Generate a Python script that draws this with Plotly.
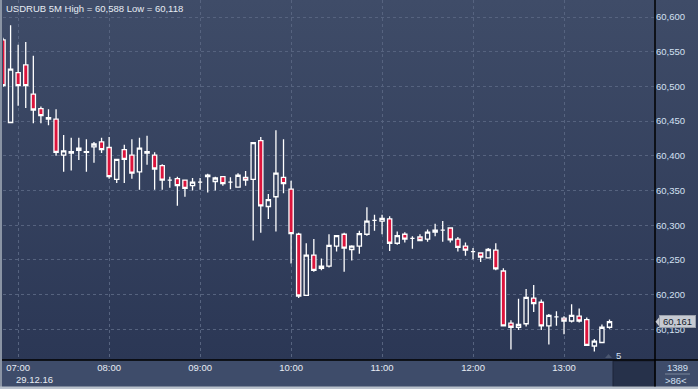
import base64
import pandas as pd
import plotly.graph_objects as go

# ---------------- data ----------------
start_time = "2016-12-29 06:50"
n_bars = 81
open_ = [60.567, 60.448, 60.520, 60.531, 60.489, 60.468, 60.453, 60.453, 60.401, 60.404,
         60.408, 60.405, 60.413, 60.420, 60.412, 60.366, 60.409, 60.401, 60.377, 60.406,
         60.401, 60.386, 60.365, 60.367, 60.365, 60.357, 60.362, 60.370, 60.363, 60.370,
         60.362, 60.355, 60.369, 60.366, 60.422, 60.327, 60.341, 60.369, 60.352, 60.287,
         60.199, 60.257, 60.238, 60.241, 60.270, 60.287, 60.265, 60.270, 60.287, 60.307,
         60.306, 60.309, 60.274, 60.287, 60.281, 60.283, 60.280, 60.290, 60.293, 60.296,
         60.280, 60.270, 60.262, 60.260, 60.253, 60.264, 60.234, 60.159, 60.153, 60.158,
         60.195, 60.189, 60.155, 60.168, 60.166, 60.162, 60.169, 60.164, 60.126, 60.131,
         60.153]
high = [60.570, 60.588, 60.560, 60.564, 60.544, 60.471, 60.467, 60.467, 60.430, 60.426,
        60.426, 60.424, 60.420, 60.426, 60.427, 60.395, 60.416, 60.424, 60.426, 60.429,
        60.405, 60.388, 60.370, 60.370, 60.366, 60.368, 60.368, 60.374, 60.370, 60.371,
        60.369, 60.375, 60.378, 60.420, 60.427, 60.345, 60.437, 60.424, 60.364, 60.289,
        60.274, 60.280, 60.252, 60.287, 60.286, 60.289, 60.271, 60.292, 60.326, 60.315,
        60.315, 60.313, 60.291, 60.290, 60.284, 60.287, 60.294, 60.302, 60.306, 60.296,
        60.283, 60.275, 60.267, 60.261, 60.267, 60.274, 60.238, 60.163, 60.194, 60.208,
        60.214, 60.193, 60.172, 60.176, 60.169, 60.186, 60.180, 60.167, 60.136, 60.157,
        60.164]
low = [60.499, 60.448, 60.472, 60.469, 60.447, 60.447, 60.444, 60.400, 60.377, 60.379,
       60.394, 60.377, 60.390, 60.404, 60.367, 60.361, 60.361, 60.367, 60.351, 60.387,
       60.351, 60.351, 60.354, 60.328, 60.341, 60.350, 60.351, 60.347, 60.350, 60.357,
       60.352, 60.354, 60.357, 60.278, 60.289, 60.309, 60.291, 60.346, 60.245, 60.195,
       60.198, 60.233, 60.235, 60.239, 60.262, 60.233, 60.249, 60.259, 60.285, 60.292,
       60.287, 60.263, 60.272, 60.275, 60.266, 60.277, 60.276, 60.284, 60.276, 60.275,
       60.262, 60.256, 60.251, 60.247, 60.252, 60.235, 60.155, 60.121, 60.149, 60.154,
       60.175, 60.149, 60.128, 60.155, 60.143, 60.160, 60.160, 60.127, 60.118, 60.130,
       60.151]
close = [60.501, 60.525, 60.501, 60.501, 60.466, 60.458, 60.455, 60.405, 60.407, 60.406,
         60.411, 60.406, 60.417, 60.409, 60.370, 60.395, 60.395, 60.375, 60.411, 60.404,
         60.381, 60.365, 60.365, 60.357, 60.353, 60.362, 60.362, 60.372, 60.368, 60.360,
         60.362, 60.372, 60.365, 60.419, 60.328, 60.337, 60.375, 60.360, 60.288, 60.198,
         60.257, 60.235, 60.241, 60.271, 60.285, 60.267, 60.270, 60.288, 60.306, 60.307,
         60.310, 60.274, 60.285, 60.280, 60.281, 60.278, 60.290, 60.293, 60.293, 60.279,
         60.268, 60.264, 60.262, 60.254, 60.265, 60.237, 60.155, 60.153, 60.157, 60.196,
         60.187, 60.155, 60.170, 60.168, 60.162, 60.170, 60.162, 60.127, 60.133, 60.153,
         60.161]

x_tick_vals = ["2016-12-29 07:00", "2016-12-29 08:00", "2016-12-29 09:00", "2016-12-29 10:00",
               "2016-12-29 11:00", "2016-12-29 12:00", "2016-12-29 13:00"]
x_tick_text = ["07:00", "08:00", "09:00", "10:00", "11:00", "12:00", "13:00"]
y_tick_vals = [60.15, 60.20, 60.25, 60.30, 60.35, 60.40, 60.45, 60.50, 60.55, 60.60]
y_tick_text = ["60,150", "60,200", "60,250", "60,300", "60,350", "60,400", "60,450",
               "60,500", "60,550", "60,600"]
title_text = "USDRUB 5M High = 60,588 Low = 60,118"
date_text = "29.12.16"
last_price = 60.161
last_price_text = "60,161"
x_range = ["2016-12-29 06:50", "2016-12-29 14:00"]
y_range = [60.1058, 60.6245]

times = pd.date_range(start_time, periods=n_bars, freq="5min")

# ---------------- figure ----------------
W, H = 698, 389
ML, MR, MT, MB = 3, 43, 0, 29
PW, PH = W - ML - MR, H - MT - MB


def px_x(px):
    return (px - ML) / PW


def px_y(py):
    return 1 - (py - MT) / PH


FONT = "Liberation Sans, Arial, sans-serif"
LABEL_COLOR = "#d3e0f2"

fig = go.Figure()
fig.add_trace(go.Candlestick(
    x=times, open=open_, high=high, low=low, close=close,
    increasing=dict(line=dict(color="#ffffff", width=1.3), fillcolor="rgba(0,0,0,0)"),
    decreasing=dict(line=dict(color="#ffffff", width=1.3), fillcolor="#dc143c"),
    whiskerwidth=0, hoverinfo="skip", showlegend=False,
))

svg = ('<svg xmlns="http://www.w3.org/2000/svg" width="100" height="100" preserveAspectRatio="none">'
       '<defs><linearGradient id="g" x1="0" y1="0" x2="0" y2="1">'
       '<stop offset="0" stop-color="#3f4c68"/><stop offset="1" stop-color="#2b3755"/>'
       '</linearGradient></defs><rect width="100" height="100" fill="url(#g)"/></svg>')
svg_uri = "data:image/svg+xml;base64," + base64.b64encode(svg.encode()).decode()

fig.add_layout_image(dict(source=svg_uri, xref="paper", yref="paper",
                          x=px_x(0), y=1, sizex=px_x(W) - px_x(0), sizey=1,
                          sizing="stretch", xanchor="left", yanchor="top", layer="below"))

shapes = [
    # bottom axis band
    dict(type="rect", xref="paper", yref="paper", x0=px_x(0), x1=px_x(W), y0=px_y(H), y1=px_y(360),
         fillcolor="#3e4c6a", line_width=0, layer="below"),
    # dark box at bottom right
    dict(type="rect", xref="paper", yref="paper", x0=px_x(613), x1=px_x(655), y0=px_y(387), y1=px_y(361),
         fillcolor="#26314a", line=dict(color="#1c2438", width=1), layer="above"),
    # frame borders
    dict(type="rect", xref="paper", yref="paper", x0=px_x(0), x1=px_x(2), y0=px_y(H), y1=px_y(0),
         fillcolor="#8a94a4", line_width=0, layer="above"),
    dict(type="rect", xref="paper", yref="paper", x0=px_x(0), x1=px_x(W), y0=px_y(H), y1=px_y(386.5),
         fillcolor="#b9c1cc", line_width=0, layer="above"),
    # black separators
    dict(type="line", xref="paper", yref="paper", x0=px_x(2), x1=px_x(W), y0=px_y(360), y1=px_y(360),
         line=dict(color="#000000", width=1.5), layer="above"),
    dict(type="line", xref="paper", yref="paper", x0=px_x(655), x1=px_x(655), y0=px_y(386.5), y1=px_y(0),
         line=dict(color="#000000", width=1.5), layer="above"),
    # line between 1389 and >86<
    dict(type="line", xref="paper", yref="paper", x0=px_x(665), x1=px_x(690), y0=px_y(374), y1=px_y(374),
         line=dict(color="#7b879b", width=1), layer="above"),
    # small triangle near "5"
    dict(type="path", xref="paper", yref="paper",
         path=f"M {px_x(605)} {px_y(358)} L {px_x(612)} {px_y(358)} L {px_x(608.5)} {px_y(354)} Z",
         fillcolor="#4a5670", line_width=0, layer="above"),
    # price arrow
    dict(type="path", xref="paper", yref="y",
         path=f"M {px_x(655.5)} {last_price} L {px_x(660)} {last_price + 0.008} L {px_x(660)} {last_price - 0.008} Z",
         fillcolor="#c6cad2", line_width=0, layer="above"),
]

annotations = [
    dict(text=title_text, xref="paper", yref="paper", x=px_x(4), y=px_y(8), xanchor="left", yanchor="middle",
         showarrow=False, font=dict(family=FONT, size=9.5, color="#e6ebf3")),
    dict(text=date_text, xref="paper", yref="paper", x=px_x(14), y=px_y(379.5), xanchor="left", yanchor="middle",
         showarrow=False, font=dict(family=FONT, size=9.5, color="#e6ebf3")),
    dict(text="1389", xref="paper", yref="paper", x=px_x(677), y=px_y(367), xanchor="center", yanchor="middle",
         showarrow=False, font=dict(family=FONT, size=9.5, color=LABEL_COLOR)),
    dict(text="&gt;86&lt;", xref="paper", yref="paper", x=px_x(676), y=px_y(380), xanchor="center", yanchor="middle",
         showarrow=False, font=dict(family=FONT, size=9.5, color=LABEL_COLOR)),
    dict(text="5", xref="paper", yref="paper", x=px_x(614), y=px_y(355), xanchor="left", yanchor="middle",
         showarrow=False, font=dict(family=FONT, size=9.5, color=LABEL_COLOR)),
    dict(text=last_price_text, xref="paper", yref="y", x=px_x(677), y=last_price, xanchor="center",
         yanchor="middle", showarrow=False, bgcolor="#c6cad2", bordercolor="#9aa0ab", borderwidth=1,
         borderpad=0, width=35, height=11,
         font=dict(family=FONT, size=9.5, color="#141a2c")),
]

fig.update_layout(
    width=W, height=H,
    margin=dict(l=ML, r=MR, t=MT, b=MB, pad=0),
    paper_bgcolor="#33405d",
    plot_bgcolor="rgba(0,0,0,0)",
    boxgap=0.2,
    shapes=shapes,
    annotations=annotations,
    font=dict(family=FONT, size=9.5, color=LABEL_COLOR),
    showlegend=False,
    xaxis=dict(
        type="date", range=x_range, rangeslider=dict(visible=False),
        tickvals=x_tick_vals, ticktext=x_tick_text, ticks="", ticklen=0,
        showgrid=True, gridcolor="#56637f", gridwidth=1, griddash="3px,3px",
        zeroline=False, showline=False, tickfont=dict(color="#e6ebf3", size=9.5),
        fixedrange=True,
    ),
    yaxis=dict(
        side="right", range=y_range, tickvals=y_tick_vals, ticktext=y_tick_text,
        ticks="", showgrid=True, gridcolor="#56637f", gridwidth=1, griddash="3px,3px",
        zeroline=False, showline=False, tickfont=dict(color=LABEL_COLOR, size=9.5),
        fixedrange=True,
    ),
)

fig.write_html("out.html", config=dict(displayModeBar=False),
               post_script="document.body.style.margin='0';document.body.style.overflow='hidden';")
